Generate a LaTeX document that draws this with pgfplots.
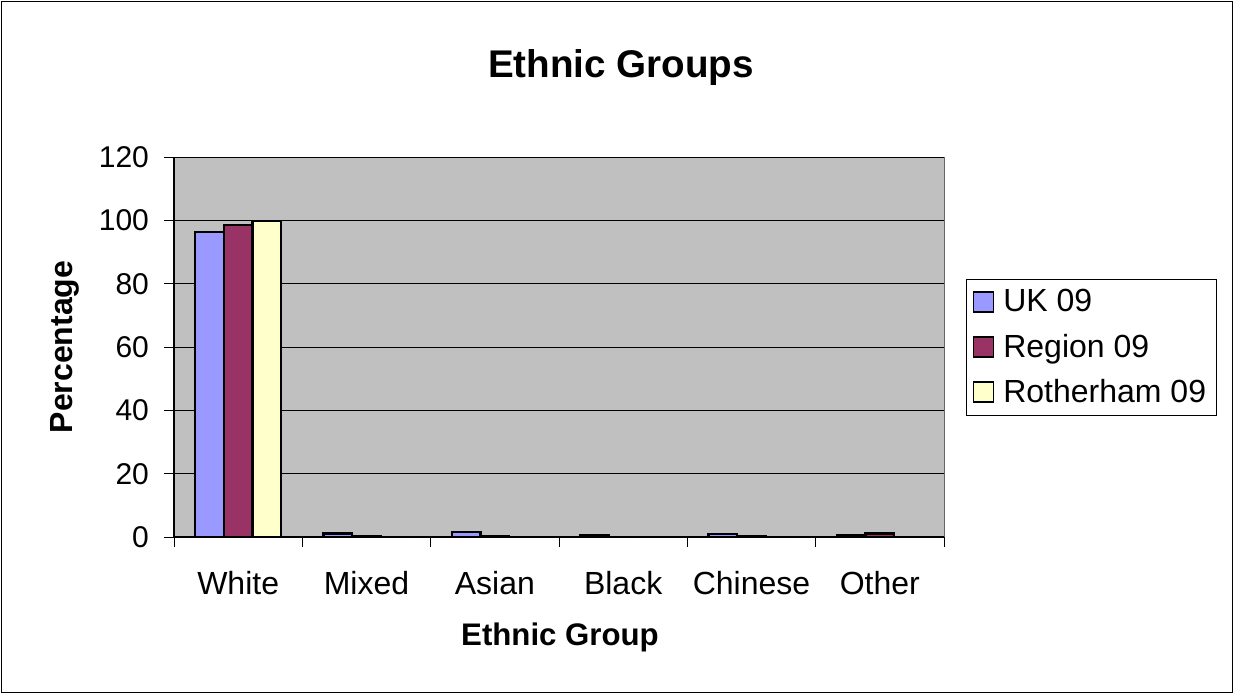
\documentclass[border=0pt]{standalone}
\usepackage{pgfplots}
\pgfplotsset{compat=1.18}
\usepackage{fontspec}
\setmainfont{Liberation Sans}
\definecolor{ukc}{HTML}{9999FF}
\definecolor{regc}{HTML}{993366}
\definecolor{rotc}{HTML}{FFFFCC}
\definecolor{plotbg}{HTML}{C0C0C0}
\begin{document}
\begin{tikzpicture}[x=1pt,y=1pt]
\useasboundingbox (0,0) rectangle (617,346.5);
\draw[black,line width=0.5pt] (0.5,0.5) rectangle (616,346);
\node[font=\bfseries\fontsize{19.3}{23}\selectfont] at (310.5,312.5) {Ethnic Groups};
\node[font=\bfseries\fontsize{16}{19}\selectfont,rotate=90] at (32.5,173) {Percentage};
\node[font=\bfseries\fontsize{15.6}{19}\selectfont] at (280,27.75) {Ethnic Group};
\begin{axis}[
  at={(87pt,78pt)}, anchor=south west,
  scale only axis, width=385pt, height=190pt,
  xmin=-0.5, xmax=5.5, ymin=0, ymax=120,
  ytick={0,20,...,120},
  xtick={0,1,2,3,4,5},
  xticklabels={White,Mixed,Asian,Black,Chinese,Other},
  minor xtick={-0.5,0.5,...,5.5},
  major x tick style={draw=none},
  minor x tick style={black, line width=0.5pt},
  minor tick length=5pt,
  major tick length=5pt,
  ytick style={black, line width=0.5pt},
  tick align=outside,
  axis x line*=bottom, axis y line*=left,
  axis line style={black, line width=0.6pt, -},
  axis background/.style={fill=plotbg, draw=gray!80!black},
  ymajorgrids, grid style={black, line width=0.5pt},
  ybar=0pt, bar width=14.35pt,
  /pgf/number format/assume math mode=true,
  xticklabel style={font=\fontsize{16}{19}\selectfont, yshift=-8.5pt},
  yticklabel style={font=\fontsize{15}{18}\selectfont, xshift=-4pt},
  legend style={at={(1.0286,0.679)}, anchor=north west,
    draw=black, line width=0.5pt, fill=white,
    font=\fontsize{16}{19}\selectfont, row sep=5.5pt,
    inner xsep=3pt, inner ysep=3pt},
  legend cell align=left,
  legend image code/.code={\draw[#1, line width=0.7pt] (1.5pt,-5pt) rectangle (11.5pt,5pt); \path (14pt,0pt);},
]
\addplot[fill=ukc, draw=black, line width=1.1pt] coordinates {(0,96.2) (1,1.1) (2,1.7) (3,0.7) (4,0.9) (5,0.6)};
\addplot[fill=regc, draw=black, line width=1.1pt] coordinates {(0,98.5) (1,0.4) (2,0.4) (3,0.05) (4,0.3) (5,1.1)};
\addplot[fill=rotc, draw=black, line width=1.1pt] coordinates {(0,99.8) (1,0) (2,0) (3,0) (4,0) (5,0)};
\legend{UK 09,Region 09,Rotherham 09}
\end{axis}
\end{tikzpicture}
\end{document}
